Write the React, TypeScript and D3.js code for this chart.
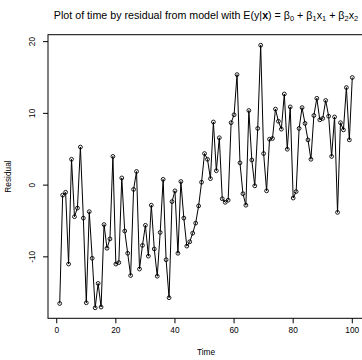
import React from "react";
import * as d3 from "d3";

const residual: number[] = [
  -16.5, -1.4, -1.0, -11.0, 3.6, -4.4, -3.2, 5.3, -4.6, -16.4,
  -3.7, -10.2, -17.1, -13.7, -17.0, -5.5, -8.8, -7.5, 4.0, -11.0,
  -10.8, 1.0, -6.4, -9.5, -12.6, -0.6, 1.9, -11.7, -8.4, -5.6,
  -9.9, -2.8, -8.9, -12.7, -6.6, 0.8, -10.4, -15.7, -2.3, -0.8,
  -9.5, 0.5, -4.6, -8.5, -7.9, -6.7, -5.3, -2.9, 0.4, 4.4,
  3.6, 0.9, 8.8, 2.0, 6.6, -1.9, -2.4, -2.1, 8.7, 9.8,
  15.4, 3.1, -1.2, -2.8, 10.4, 3.5, -0.1, 7.9, 19.5, 4.4,
  -0.8, 6.4, 6.5, 10.6, 8.9, 7.8, 12.7, 5.0, 10.9, -1.8,
  -0.9, 7.9, 10.8, 8.6, 6.3, 3.6, 9.7, 12.1, 9.1, 9.3,
  11.8, 9.6, 4.0, 9.5, -3.8, 8.7, 7.7, 13.6, 6.3, 15.0,
];
const time: number[] = residual.map((_, i) => i + 1);
const xTicks: number[] = [0, 20, 40, 60, 80, 100];
const yTicks: number[] = [-10, 0, 10, 20];

const W = 362;
const H = 360;
const box = { left: 48, right: 364, top: 34.7, bottom: 318.3 };

export default function App() {
  const xExt = d3.extent(time) as [number, number];
  const yExt = d3.extent(residual) as [number, number];
  const xPad = (xExt[1] - xExt[0]) * 0.04;
  const yPad = (yExt[1] - yExt[0]) * 0.04;
  const x = d3.scaleLinear().domain([xExt[0] - xPad, xExt[1] + xPad]).range([box.left, box.right]);
  const y = d3.scaleLinear().domain([yExt[0] - yPad, yExt[1] + yPad]).range([box.bottom, box.top]);
  const line = d3
    .line<number>()
    .x((_, i) => x(time[i]))
    .y((d) => y(d));
  const font = "Liberation Sans, Arial, Helvetica, sans-serif";
  const sub = { fontSize: 7.5 } as React.CSSProperties;
  return (
    <svg
      width={W}
      height={H}
      style={{ position: "absolute", left: 0, top: 0, background: "#fff" }}
      fontFamily={font}
    >
      <rect x={0} y={0} width={W} height={H} fill="#fff" />
      <text x={(box.left + box.right) / 2} y={19} fontSize={10.7} textAnchor="middle" fill="#000">
        Plot of time by residual from model with E(y|
        <tspan fontWeight="bold">x</tspan>) = β
        <tspan style={sub} dy={2}>0</tspan>
        <tspan dy={-2}> + β</tspan>
        <tspan style={sub} dy={2}>1</tspan>
        <tspan dy={-2}>x</tspan>
        <tspan style={sub} dy={2}>1</tspan>
        <tspan dy={-2}> + β</tspan>
        <tspan style={sub} dy={2}>2</tspan>
        <tspan dy={-2}>x</tspan>
        <tspan style={sub} dy={2}>2</tspan>
      </text>
      <rect
        x={box.left}
        y={box.top}
        width={box.right - box.left}
        height={box.bottom - box.top}
        fill="none"
        stroke="#000"
        strokeWidth={1}
      />
      {xTicks.map((t) => (
        <g key={"xt" + t}>
          <line x1={x(t)} x2={x(t)} y1={box.bottom} y2={box.bottom + 5} stroke="#000" />
          <text x={x(t)} y={box.bottom + 15} fontSize={8.3} textAnchor="middle">
            {t}
          </text>
        </g>
      ))}
      {yTicks.map((t) => (
        <g key={"yt" + t}>
          <line x1={box.left - 5} x2={box.left} y1={y(t)} y2={y(t)} stroke="#000" />
          <text
            transform={`translate(${box.left - 13},${y(t)}) rotate(-90)`}
            fontSize={8.3}
            textAnchor="middle"
          >
            {t}
          </text>
        </g>
      ))}
      <text x={(box.left + box.right) / 2} y={355} fontSize={8.3} textAnchor="middle">
        Time
      </text>
      <text
        transform={`translate(11,${(box.top + box.bottom) / 2}) rotate(-90)`}
        fontSize={8.3}
        textAnchor="middle"
      >
        Residual
      </text>
      <path d={line(residual) ?? ""} fill="none" stroke="#000" strokeWidth={1} />
      {residual.map((v, i) => (
        <circle key={i} cx={x(time[i])} cy={y(v)} r={1.9} fill="none" stroke="#000" strokeWidth={0.9} />
      ))}
    </svg>
  );
}
